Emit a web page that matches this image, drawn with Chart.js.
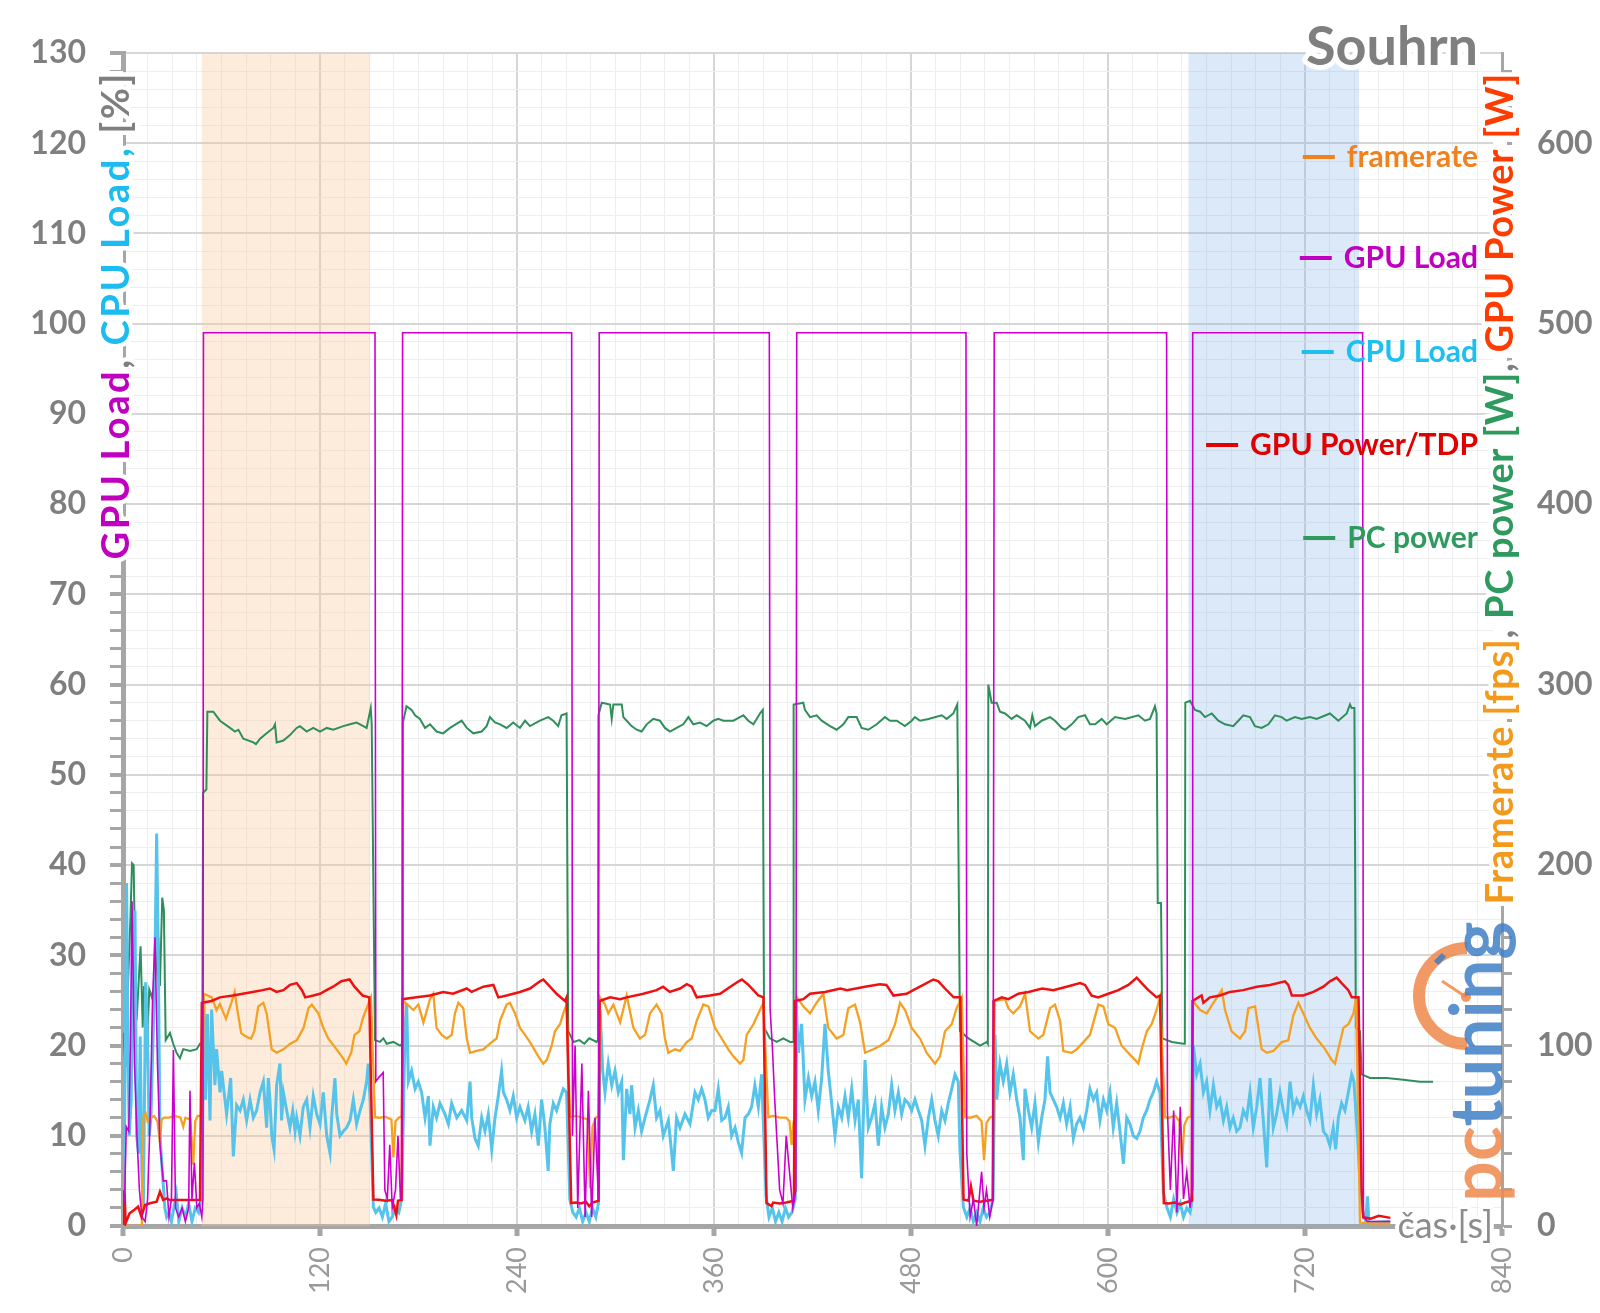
<!DOCTYPE html>
<html>
<head>
<meta charset="utf-8">
<script src="https://cdn.jsdelivr.net/npm/chart.js@4.4.1/dist/chart.umd.min.js"></script>
<style>
  html, body { margin: 0; padding: 0; background: #fff; }
  canvas { display: block; }
</style>
</head>
<body>
<canvas id="myChart" width="1600" height="1313"></canvas>
<script>
// tick labels
const xTickLabels = [0, 120, 240, 360, 480, 600, 720, 840];
const leftTickLabels = [0, 10, 20, 30, 40, 50, 60, 70, 80, 90, 100, 110, 120, 130];
const rightTickLabels = [0, 100, 200, 300, 400, 500, 600];

// shaded test windows [from s, to s]
const highlightBands = [[48, 150.5], [649, 753]];

// [time s, GPU load %]
const gpuLoad = [[0,4],[1,3],[2,11],[3.5,10.5],[4.5,20],[5.5,36],[7,18],[8.5,10],[10,4],[11.5,1],[13.5,0.5],[15,3],[16.5,12],[18,25],[19.5,32],[21,18],[22.5,9],[24.5,5],[26.5,5],[28,1],[29.5,3],[30.7,19.5],[32,2],[34,1],[36,2],[38,0.5],[40,2],[40.8,15],[42,3],[43.5,7],[45,2],[46.5,2.5],[48,1],[48.7,3],
  [49,99],[153.5,99],
  [154,16],[156,16.5],[158.5,17],[159.5,4],[161,3],[162.5,9],[164,2],[166,4],[167.5,10],[169,3],[169.9,5],
  [170.3,99],[273.3,99],
  [273.8,10],[275.4,20],[277,2],[279.5,18],[281.5,1],[283.5,15],[285.5,1],[287.5,12],[289.6,3],
  [290.1,99],[393.7,99],
  [394.2,24],[395.5,20],[397,14],[400,4],[402,2.5],[404,10],[406,6],[408,2],[409.9,4],
  [410.4,99],[513.5,99],
  [514,8],[516,1],[518,3],[520,0],[522,4],[523,6],[524.5,2],[526,4],[528,1],[530,3],
  [530.7,99],[635.7,99],
  [636.2,12.8],[638,4],[640,12.8],[642,1.5],[644,13.2],[646,3],[648,6],[650,2],[651.2,4],
  [651.6,99],[755.1,99],
  [755.6,1],[758,0.5],[772,0.5]];

// [time s, CPU load %]
const cpuLoad = [[0,4],[1,12],[2.2,38],[3,20],[3.8,10],[5,14],[6,30],[7.3,35],[8.3,10],[9.5,8],[10.5,21],[11.5,6],[12.4,2],[13.8,27],[14.8,22],[16,10],[17,12],[18.5,22],[19.5,30],[20.5,43.5],[21.5,30],[22.5,10],[24,6],[25.5,2],[26.6,1],[28,1.5],[29.5,0.5],[31,2],[32.5,3.5],[34,0.5],[36,2],[38,1],[40,2.5],[42,0.5],[44,2],[46,1.5],[47.5,3],[48.5,10],[49.3,25],[50.2,14],
  [51.4,23.5],[53,11.7],[54,24],[56,15.6],[57,19.6],[59.1,14.8],[60.1,17.2],[62.1,14],[63.1,12.4],[65.6,16.4],[67.2,7.7],[69.2,13.4],[71.3,12.8],[73.3,14],[75.3,11.7],[77.4,14],[79.4,12],[81.4,12.8],[83.5,14.8],[85.5,16],[87.5,10.9],[88.5,16.4],[89.5,14],[90.6,10],[92,8.5],[93.6,15.6],[95.6,18],[96.6,11.7],[97.7,14.8],[99.7,12.8],[101.7,10.9],[103.4,12.8],[104.8,10.5],[105.8,12],[107.8,10],[109.8,13.2],[111.9,14],[113.9,10.9],[115.9,14.4],[118,12.4],[120,11.3],[122,14.8],[124.1,10],[126.1,8.1],[127.1,12],[129.1,16.4],[130.2,12.4],[132.2,10],[134.2,10.5],[136.2,10.9],[138.3,11.7],[140.3,14],[142.3,11.3],[144.4,12.8],[146.4,14],[148.4,16],[149.4,18],[150.5,14],[152.5,2.1],
  [154,1.5],[156,2],[158,1],[160,2.5],[162,0.5],[164,1],[166,2],[168,1.5],[169.8,3],
  [171.8,22],[172.8,24.7],[173.8,16],[175.8,17.2],[177.9,15.2],[179.9,16],[181.9,14.8],[184,12],[186,14.4],[187,8.9],[189,13.2],[191,12],[193.1,13.6],[196.1,12.4],[198.2,11.3],[200.2,13.6],[203.3,12],[206.3,12.8],[209.4,11.7],[211.4,16],[212.4,12],[214.4,9.7],[216.4,8.9],[218.5,12],[220.5,10.5],[222.5,12.4],[224.6,8.5],[226.6,12],[228.6,14.4],[230.6,17.2],[231.7,14.8],[233.7,14],[235.7,12.8],[237.7,14.4],[239.8,12],[241.8,13.2],[244.8,11.7],[246.8,13.2],[248.9,10.5],[250.9,12.4],[253,8.9],[255,14],[257,10.9],[259,6.1],[260,11.3],[262.1,13.6],[264.1,12.8],[266.1,14],[268.2,15.2],[270.2,14.8],[272.2,2.9],
  [274,1.5],[276,1],[278,2],[280,0.5],[282,1.5],[284,0.5],[286,2],[288,1],[289.6,2.5],
  [290.6,24],[292.2,17.2],[293.6,14.8],[295.6,18],[297.7,15.6],[299.7,17.2],[301.7,14.8],[303.8,16],[304.8,7.3],[306.8,15.2],[308.8,12.4],[309.8,15.6],[311.9,10.9],[313.9,12.8],[315.9,10.5],[318,12],[321,14],[323,15.6],[325,12],[327.1,12.8],[329.1,10],[332.2,11.7],[334.2,8.1],[335.2,6.1],[337.2,12],[339.3,10.9],[342.3,12.4],[345.4,11.3],[348.4,14.8],[350.4,14],[352.5,15.2],[354.5,14],[356.5,12],[358.6,12.8],[360.6,12.8],[362.6,15.2],[364.7,11.7],[366.7,12],[368.7,13.2],[370.7,10],[372.8,10.9],[374.8,9.3],[376.8,8.1],[378.9,12],[380.9,12.4],[382.9,13.2],[384.9,15.6],[387,13.2],[389,16.8],[391.7,3.3],
  [393.5,1],[395.5,2],[397.5,0.5],[399.5,1.5],[401.5,0.5],[403.5,2],[405.5,1],[407.5,1.5],[409.5,3],
  [410.3,23.5],[411.4,19.2],[413.4,22.4],[415.4,14],[417.5,16.4],[419.5,14.4],[421.5,16],[423.5,12.8],[425.6,16.4],[427.6,22.4],[429.6,17.2],[431.7,13.6],[433.7,10],[435.7,13.2],[437.8,12],[439.8,14.4],[441.8,12],[443.9,15.2],[445.9,11.7],[447.9,14],[449.9,5.3],[452,18.4],[454,10.9],[456,12],[458.1,13.6],[460.1,8.9],[462.1,13.2],[464.1,10.9],[466.2,12.4],[468.2,15.6],[470.2,12.8],[472.3,14.8],[474.3,12.4],[476.3,14],[478.4,13.6],[480.4,12.8],[482.4,14],[484.5,12.8],[486.5,11.7],[488.5,8.9],[490.6,12],[492.6,14],[494.6,11.7],[496.6,10],[498.7,12.8],[500.7,11.7],[502.7,13.6],[504.8,15.2],[506.8,16.8],[508.8,16],[509.8,8.5],[511.9,2.1],
  [514,1],[516,2],[518,0.5],[520,1.5],[522,0.5],[524,2],[526,1],[528,1.5],[530,3],
  [531.2,21.2],[532.2,14],[534.2,18],[536.2,16],[538.3,18],[540.3,14.8],[542.3,16.8],[544.4,14],[546.4,12],[548.4,7.3],[549.4,15.2],[551.5,12.8],[553.5,10.9],[555.5,13.6],[557.6,9.3],[559.6,12],[561.6,14],[563.2,18.8],[564.7,14.8],[566.7,14],[568.7,13.2],[570.8,12],[572.8,13.6],[574.8,11.3],[576.9,13.2],[578.9,9.7],[580.9,11.3],[582.9,12],[585,10.9],[587,12.8],[589,15.2],[591.1,14],[593.1,14.8],[595.1,11.7],[597.2,14],[599.2,12.8],[601.2,14.8],[603.2,10.9],[605.3,13.6],[607.3,10.5],[609.4,6.9],[611.4,12],[613.4,11.3],[615.4,10],[617.5,9.7],[619.5,10.5],[621.5,12],[623.6,12.8],[625.6,14],[627.6,14.8],[629.6,16],[631.7,14.8],[633.7,3.7],
  [636,2],[638,1],[640,3],[642,1.5],[644,2.5],[646,1],[648,2],[650,1.5],[651.4,3],
  [652,20],[654,16.8],[656.1,18],[658.1,14.8],[660.1,16],[662.1,12.8],[664.2,15.6],[666.2,13.2],[668.2,14],[670.3,11.7],[672.3,13.2],[674.3,10.9],[676.3,12],[678.4,10.5],[680.4,10.9],[682.4,12.8],[684.5,12],[686.5,14.8],[688.5,10.9],[690.6,13.2],[692.6,16.4],[694.6,11.7],[696.7,6.5],[698.7,16.4],[700.7,10.9],[702.7,12.4],[704.8,14.8],[706.8,12.8],[708.8,11.3],[710.9,16],[712.9,12.8],[714.9,14],[717,13.2],[719,14.4],[721,12.8],[723,11.7],[725.1,15.6],[727.1,12.4],[729.1,14],[731.2,10.5],[733.2,10],[735.2,8.9],[737.2,10.9],[738.7,8.5],[740.3,12],[742.3,13.6],[744.3,12.8],[746.4,14.8],[748.4,16.8],[749.8,16],[752,10],[754,3],[755.5,1.3],[757,0.5],[758,3.3],[759,0.4],[772,0.5]];

// [time s, framerate fps]
const framerate = [[0,0],[10,0],[11.5,1],[12.4,60],[13.8,62.5],[15,58],[17,60],[19,61],[21,58],[22.5,46],[23.5,59],[25,60],[28,60],[32,61],[35,60],[36.7,55],[38,60],[41,59],[42.8,34],[44,58],[45.5,61],[48.3,61],
  [49.3,128.7],[54,126.7],[57,119.7],[59,123],[62.7,114.8],[66,123.7],[68,129.7],[70,117.8],[72,106.9],[75,104.9],[78,103.9],[80,107.9],[82.4,121.7],[85.5,123.7],[87.5,117.8],[90.6,97.9],[93.6,96],[97.7,97.9],[101.7,100.9],[105.8,102.9],[110,109.8],[113,120.7],[115,122.7],[119,117.8],[122,109.8],[125,103.9],[130,98],[134,93],[136,90],[139,96],[141,105.9],[144,107.9],[146,114.8],[148,119.7],[151,126.7],[153.5,60.3],
  [156,60],[160,60.5],[163.5,59],[164.7,38],[166,58],[168,60],[169.8,61],
  [170.8,124.7],[176.9,119.7],[179.9,122.7],[183,112.8],[187,125.7],[189,128.7],[191,109.8],[194.1,105.9],[197.2,103.9],[200.2,105.9],[202.2,117.8],[204.3,123.7],[207.3,120.7],[209.4,103.9],[211.4,96],[215.4,97],[219.5,97.9],[224.6,101.9],[227.6,103.9],[229.7,113.8],[233.7,122.7],[235.7,123.7],[238.8,117.8],[241.8,109.8],[244.9,105.9],[247.9,101.9],[253,94],[256,90],[258.1,91.9],[261.1,99.9],[263.1,107.9],[266.2,111.8],[268.2,117.8],[270.2,122.7],[272.3,60.3],
  [276,61],[280,60],[283,59],[284.5,21],[286,55],[288,60],[289.7,61],
  [290.6,126.7],[293.6,122.7],[295.6,117.8],[298.7,122.7],[302.8,112.8],[306.8,127.7],[310.9,109.8],[314.9,103.9],[318,105.9],[321,117.8],[325,122.7],[328.1,117.8],[330.1,103.9],[332.2,96],[336.3,97.9],[339.3,97],[343.4,101.9],[346.4,103.9],[349.5,113.8],[353.5,122.7],[356.6,121.7],[360.6,109.8],[364.7,103.9],[368.7,97.9],[371.8,94],[375.8,90],[377.9,92],[379.9,105.9],[384,111.8],[387,117.8],[390.1,123.7],[393.1,60.3],
  [396,61],[400,60],[404,60],[406,58],[407.3,45],[408.5,58],[409.8,60],
  [410.6,126.7],[414.4,121.7],[418.5,117.8],[422.5,123.7],[426.6,128.7],[429.6,109.8],[434.7,103.9],[438.8,105.9],[441.8,120.7],[445.9,122.7],[449,112.8],[452,96],[457.1,97.9],[461.2,99.9],[466.2,102.9],[470.3,111.8],[473.3,123.7],[476.4,119.7],[480.4,109.8],[485.5,103.9],[489.5,96],[494.6,90],[497.7,94],[500.7,107.9],[504.8,111.8],[507.8,120.7],[510.9,126.7],[512.9,60.3],
  [516,60],[520,61],[523,58],[524.5,36.5],[526,57],[528,60],[530,61],
  [531,124.7],[537.3,125.7],[539.3,120.7],[542.3,117.8],[546.4,121.7],[549.5,128.7],[552.5,107.9],[557.6,103.9],[560.6,105.9],[564.7,120.7],[567.7,122.7],[570.8,113.8],[572.8,96.9],[577.9,96],[580.9,97.9],[585,101.9],[589,105.9],[594.1,122.7],[597.2,121.7],[600.2,111.8],[604.3,109.8],[608.3,99.9],[614.4,94],[618.5,90],[620.5,97.9],[623.6,107.9],[626.6,111.8],[629.6,119.7],[631.7,126.7],[634.7,60.3],
  [637,60],[641,61],[643.5,58],[645,34.5],[646.5,56],[648.5,60],[650.8,61],
  [651.8,124.7],[656.1,119.7],[660.1,117.8],[664.2,123.7],[669.3,130.7],[671.3,119.7],[675.3,107.9],[680.4,103.9],[683.5,107.9],[685.5,120.7],[689.6,121.7],[691.6,109.8],[693.6,98],[696.7,96],[700.7,97],[705.8,101.9],[709.8,102.9],[712.9,116.8],[716,123.7],[719,117.8],[723,109.8],[727.1,103.9],[732.2,98],[736.3,92],[738.3,90],[740.3,98],[743.4,109.8],[746.4,111.8],[749.5,117.8],[751.1,125.7],[753.5,1.8],[760,1.5],[772,1.5]];

// [time s, GPU power W]
const gpuPower = [[0,0.6],[1,18],[1.6,1.5],[4,7],[7,9],[9.2,10.7],[11.2,5.2],[13.4,11.6],[16.4,12.6],[20.5,13.5],[22.5,19],[24.5,14.4],[26.6,15.3],[28.6,14.4],[36.7,14.4],[46.9,14.4],
  [48,123.7],[54,124.7],[59,126.7],[67,127.7],[73,128.7],[79,129.7],[85,130.7],[89.5,131.6],[93.5,129.7],[97.7,130.7],[101.7,133.6],[105.8,134.6],[109,130.7],[111,126.7],[116,127.7],[120,128.7],[124,130.7],[128,132.6],[133,135.6],[138,136.6],[141,132.6],[146,127.7],[150,126.7],[152.5,14.7],
  [156,14.5],[160,14],[164,14.4],[166.5,6],[167.5,14],[169.7,14.4],
  [170.3,125.7],[178.9,126.7],[187,127.7],[195,129.7],[201,128.7],[209.4,131.6],[212.4,129.7],[219.5,132.6],[225.6,133.6],[228.6,126.7],[233.7,127.7],[241.8,129.7],[247.9,131.6],[254,135.6],[256,136.6],[260.1,132.6],[264.1,128.7],[269.2,124.7],[270.2,126.7],[273,12.7],
  [276,13],[279,12.5],[282,13.5],[284,11],[286,13],[289.7,14],
  [290.3,124.7],[296.7,126.7],[302.8,125.7],[306.8,126.7],[317,128.7],[325,130.7],[329,132.6],[333.1,129.7],[339.3,131.6],[343.4,134],[346.4,132.6],[349.5,126.7],[357.6,127.7],[363.7,128.7],[370,132.6],[375,135.6],[377,136.6],[381,133.6],[384,130.7],[387,127.7],[390.1,126.7],[392,12.7],
  [395,11],[396,13],[400,12.5],[404,13],[408.7,14],
  [409.3,124.7],[414.4,125.7],[418.5,128.7],[427.6,129.7],[437,131.6],[441,130.7],[452,132.6],[461.1,134],[465,133.6],[469.3,127.7],[477.3,128.7],[481.4,130.7],[487.5,133.6],[493.6,136.6],[496.7,135.6],[500.7,131.6],[506,126.7],[510,126.7],[512,14.7],
  [515,14],[516.5,22],[518,14],[522,13.5],[526,14],[529.8,14.5],
  [530.3,124.7],[535.3,126.7],[539.3,125.7],[545.4,128.7],[551.5,129.7],[560,131.6],[566.7,130.7],[574.8,132.6],[583,134.6],[586,133.6],[590,127.7],[594,126.7],[600.2,128.7],[606.3,130.7],[612.4,133.6],[617.5,137.6],[620.5,134.6],[624.6,130.7],[629.6,126.7],[631.7,127.7],[634,12.7],
  [637,12.5],[641,13],[644,12],[647,13],[651,14],
  [651.5,124.7],[657,127.7],[658.1,123.7],[662.1,126.7],[668.2,127.7],[674.3,129.7],[682.4,130.7],[690.6,132.6],[698.7,133.6],[707.8,135.6],[709.8,133.6],[712,127.7],[719,127.7],[725.1,129.7],[731.2,132.6],[735.2,135.6],[739.3,137.6],[742.3,134.6],[746.4,130.7],[748.5,126.7],[752.6,126.7],[754.5,20],[755.5,4.8],[760,4],[765,5.7],[772,4.5]];

// [time s, PC power W]
const pcPower = [[0,107],[1.6,88],[3,133],[4.5,170],[5.5,201],[6.5,200],[7.5,140],[8.3,114],[10.7,155],[12,110],[12.8,133],[14.4,96],[16,131],[17.5,127],[19.5,135],[21.5,160],[22.5,133],[23.9,182],[24.9,175],[26,103],[28.6,107],[30.6,101],[32.6,96],[34.7,93],[36.7,98],[40.8,97],[44.9,98],[46.9,101],[48.3,101],[48.8,240],[50.8,242],
  [51.4,285],[55,285],[59.1,280],[65.2,276],[68.2,274],[70.3,275],[73.3,270],[79.4,268],[81,267],[83.5,270],[87.5,273],[91.6,276],[92.6,278],[93.6,268],[97.7,269],[101.7,272],[105.8,276],[107.8,277],[111.9,274],[115.9,276],[120,274],[124.1,276],[128.1,275],[134.2,277],[138.3,278],[142.3,279],[146.4,277],[148.4,276],[150.9,287],[151.5,278],[153.5,103],
  [156.5,102],[158.6,104],[160.6,101],[164.7,102],[168.7,100],[170.2,101],
  [170.5,279],[172.7,288],[175.8,286],[177.9,283],[180.9,281],[184,276],[187,278],[191,274],[195,273],[199.2,276],[206.3,280],[209.4,276],[213.4,273],[218.5,274],[221.5,277],[223.5,282],[226.6,279],[229.7,278],[233.7,276],[237.7,279],[241.8,276],[244.9,280],[247.9,277],[254,280],[259,282],[262.1,280],[265.1,277],[267.1,283],[270.2,284],[271.2,108],[274.5,102],[278,103],[281,101],[284,104],[288.5,102],[289.3,103],
  [289.6,283],[291.6,290],[296.7,289],[297.7,281],[298.7,289],[303.8,289],[304.8,282],[306.8,280],[309.8,277],[312.9,275],[315.9,274],[319,278],[323,281],[327.1,280],[330.1,276],[333.2,274],[337.2,276],[341.3,278],[344.4,282],[347.4,278],[351.5,279],[355.5,277],[359.6,280],[362.6,281],[365.7,280],[371.8,280],[375.8,282],[377.9,283],[380.9,280],[384,278],[388,284],[389.7,286],[390.5,110],[394,104],[398.2,102],[402.2,104],[406.3,102],[408.2,102],
  [408.5,289],[414.4,290],[415.4,286],[418.5,282],[422.5,283],[425.6,280],[430.7,277],[434.7,275],[438.8,278],[441.8,282],[446.9,282],[449.9,276],[454,275],[459.1,278],[464.2,282],[467.2,280],[471.3,280],[476.3,277],[480.4,280],[482.4,282],[485.5,280],[490.6,281],[498.7,283],[501.7,281],[505.8,284],[508.2,289],[509.8,108],[515,104],[522.1,100],[526.2,102],[526.8,101],
  [527.1,300],[529.1,290],[532.2,290],[534.2,285],[537.3,284],[541.3,281],[544.4,283],[549.4,280],[552.5,276],[553.9,283],[555.5,277],[559.6,280],[564.7,282],[567.7,280],[571.8,276],[573.8,275],[577.9,278],[581.9,282],[586,283],[589,278],[592.1,278],[596.2,281],[599.2,278],[604.3,282],[610.4,281],[618.5,283],[622.5,280],[625.6,281],[628.6,288],[629.6,284],[630.3,179],[632.3,179],[633.1,104],[638.9,102],[646,101],[646.8,101],
  [647.1,290],[650,291],[653,286],[656.1,285],[659.1,282],[663.2,284],[667.2,280],[671.3,278],[676.3,277],[679.4,280],[682.4,283],[686.5,282],[689.5,277],[693.6,276],[697.7,278],[701.7,283],[705.8,282],[708.8,280],[713.9,282],[718,281],[723,282],[727.1,281],[735.2,284],[740.3,280],[745.4,284],[747.4,289],[748.4,287],[750.1,287],[751,110],[753.5,108],[754.5,84],[759.6,82],[769.7,82],[779.9,81],[790,80],[798,80]];

const FONT = 'Lato, "Open Sans", sans-serif';
const GRAY = '#7f7f7f';
const AXIS_GRAY = '#a6a6a6';

const toXY = pts => pts.map(p => ({ x: p[0], y: p[1] }));
const hasLabel = (list, v) => list.some(l => Math.abs(l - v) < 1e-6);

// legend text colours and y positions (drawn by the overlay plugin)
const legendItems = [
  { label: 'framerate', color: '#f0821e', y: 157 },
  { label: 'GPU Load', color: '#c000c0', y: 258 },
  { label: 'CPU Load', color: '#1cbff0', y: 352 },
  { label: 'GPU Power/TDP', color: '#e00000', y: 445 },
  { label: 'PC power', color: '#2e9a5e', y: 538 }
];

function drawRotated(ctx, parts, cx, topY, font, spacing) {
  ctx.save();
  ctx.font = font;
  ctx.letterSpacing = spacing + 'px';
  let total = 0;
  parts.forEach(p => { total += ctx.measureText(p[0]).width; });
  // hide the axis line behind the title
  ctx.fillStyle = '#fff';
  ctx.fillRect(cx - 8, topY, 14, total);
  ctx.translate(cx, topY + total);
  ctx.rotate(-Math.PI / 2);
  ctx.textBaseline = 'middle';
  ctx.textAlign = 'left';
  ctx.lineJoin = 'round';
  ctx.strokeStyle = '#fff';
  ctx.lineWidth = 9;
  let x = 0;
  parts.forEach(p => { ctx.strokeText(p[0], x, 0); x += ctx.measureText(p[0]).width; });
  x = 0;
  parts.forEach(p => { ctx.fillStyle = p[1]; ctx.fillText(p[0], x, 0); x += ctx.measureText(p[0]).width; });
  ctx.restore();
}

const overlay = {
  id: 'overlay',
  beforeDatasetsDraw(chart) {
    const ctx = chart.ctx, a = chart.chartArea, xs = chart.scales.x;
    const cols = ['rgba(250, 200, 150, 0.34)', 'rgba(130, 175, 235, 0.28)'];
    ctx.save();
    highlightBands.forEach((b, i) => {
      const x0 = xs.getPixelForValue(b[0]), x1 = xs.getPixelForValue(b[1]);
      ctx.fillStyle = cols[i];
      ctx.fillRect(x0, a.top, x1 - x0, a.bottom - a.top);
    });
    ctx.restore();
  },
  afterDraw(chart) {
    const ctx = chart.ctx;

    // axis titles
    drawRotated(ctx, [['GPU Load', '#c000c0'], [', ', GRAY], ['CPU Load,', '#1cbcf0'], [' [%]', GRAY]],
      117, 71, 'bold 38px ' + FONT, 2.6);
    drawRotated(ctx, [['Framerate [fps]', '#f39a1d'], [', ', GRAY], ['PC power [W]', '#2e9a5e'], [', ', GRAY], ['GPU Power [W]', '#ff3c00']],
      1501, 73, 'bold 38px ' + FONT, 0.7);

    ctx.save();
    ctx.lineJoin = 'round';
    // chart title
    ctx.font = 'bold 54px ' + FONT;
    ctx.textAlign = 'right';
    ctx.textBaseline = 'alphabetic';
    ctx.strokeStyle = '#fff'; ctx.lineWidth = 10;
    ctx.strokeText('Souhrn', 1478, 65);
    ctx.fillStyle = GRAY;
    ctx.fillText('Souhrn', 1478, 65);

    // x axis name
    ctx.font = '36px ' + FONT;
    ctx.textBaseline = 'middle';
    ctx.lineWidth = 8;
    ctx.strokeText('čas·[s]', 1493, 1226);
    ctx.fillStyle = '#8c8c8c';
    ctx.fillText('čas·[s]', 1493, 1226);

    // legend
    ctx.font = 'bold 30px ' + FONT;
    legendItems.forEach(it => {
      const ds = chart.data.datasets.find(d => d.label === it.label);
      const w = ctx.measureText(it.label).width;
      const left = 1478 - w;
      ctx.strokeStyle = it.color;
      ctx.lineWidth = 4;
      ctx.beginPath();
      ctx.moveTo(left - 44, it.y); ctx.lineTo(left - 12, it.y);
      ctx.stroke();
      ctx.fillStyle = it.color;
      ctx.fillText(ds.label, 1478, it.y);
    });
    ctx.restore();

    // pctuning watermark
    ctx.save();
    ctx.globalAlpha = 0.85;
    ctx.strokeStyle = '#f0884a';
    ctx.lineWidth = 12;
    ctx.beginPath();
    ctx.arc(1467, 996, 48, -Math.PI / 2, Math.PI / 2, true);
    ctx.stroke();
    ctx.lineWidth = 3;
    ctx.beginPath(); ctx.moveTo(1442, 981); ctx.lineTo(1466, 997); ctx.stroke();
    ctx.fillStyle = '#f0884a';
    ctx.beginPath(); ctx.arc(1466, 997, 5, 0, Math.PI * 2); ctx.fill();
    ctx.strokeStyle = '#3f7fc4'; ctx.lineWidth = 6;
    ctx.beginPath(); ctx.moveTo(1436, 963); ctx.lineTo(1444, 955); ctx.stroke();
    ctx.translate(1502, 1202);
    ctx.rotate(-Math.PI / 2);
    ctx.font = 'bold 72px ' + FONT;
    ctx.textBaseline = 'alphabetic';
    ctx.textAlign = 'left';
    ctx.fillStyle = '#f0884a';
    ctx.fillText('pc', 0, 0);
    const pw = ctx.measureText('pc').width;
    ctx.fillStyle = '#3f7fc4';
    ctx.fillText('tuning', pw, 0);
    ctx.restore();
  }
};

const data = {
  datasets: [
    { label: 'framerate', data: toXY(framerate), yAxisID: 'y1', borderColor: '#f5a021', borderWidth: 2.3, order: 3 },
    { label: 'GPU Load', data: toXY(gpuLoad), yAxisID: 'y', borderColor: '#cc00cc', borderWidth: 1.6, order: 1 },
    { label: 'CPU Load', data: toXY(cpuLoad), yAxisID: 'y', borderColor: '#55c3ea', borderWidth: 3, order: 4 },
    { label: 'GPU Power/TDP', data: toXY(gpuPower), yAxisID: 'y1', borderColor: '#ee1111', borderWidth: 2.5, order: 2 },
    { label: 'PC power', data: toXY(pcPower), yAxisID: 'y1', borderColor: '#2f8f5b', borderWidth: 2, order: 5 }
  ]
};

const config = {
  type: 'line',
  data: data,
  plugins: [overlay],
  options: {
    responsive: false,
    animation: false,
    layout: { padding: { top: 53, left: 0, right: 0, bottom: 0 } },
    elements: { point: { radius: 0 }, line: { tension: 0, fill: false } },
    plugins: { legend: { display: false }, tooltip: { enabled: false } },
    scales: {
      x: {
        type: 'linear', min: 0, max: 840,
        afterFit: s => { s.height = 87; },
        border: { color: AXIS_GRAY, width: 5 },
        grid: {
          color: c => c.tick.value % 120 === 0 ? '#d6d6d6' : '#eeeeee',
          lineWidth: c => c.tick.value % 120 === 0 ? 2 : 1,
          tickColor: c => hasLabel(xTickLabels, c.tick.value) ? AXIS_GRAY : 'rgba(0,0,0,0)',
          tickWidth: 5, tickLength: 10
        },
        ticks: {
          stepSize: 15, autoSkip: false, minRotation: 90, maxRotation: 90, padding: 11,
          color: '#9a9a9a', font: { family: FONT, size: 27 },
          callback: v => hasLabel(xTickLabels, v) ? String(v) : ''
        }
      },
      y: {
        position: 'left', min: 0, max: 130,
        afterFit: s => { s.width = 123; },
        border: { color: AXIS_GRAY, width: 5 },
        grid: {
          color: c => c.tick.value % 10 === 0 ? '#d6d6d6' : '#eeeeee',
          lineWidth: c => c.tick.value % 10 === 0 ? 2 : 1,
          tickColor: AXIS_GRAY,
          tickWidth: c => c.tick.value % 10 === 0 ? 4 : 3,
          tickLength: 13
        },
        ticks: {
          stepSize: 2, autoSkip: false, padding: 24, color: GRAY,
          font: { family: FONT, size: 32, weight: 'bold' },
          callback: v => hasLabel(leftTickLabels, v) ? String(v) : ''
        }
      },
      y1: {
        position: 'right', min: 0, max: 650,
        afterFit: s => { s.width = 98; },
        border: { color: AXIS_GRAY, width: 3 },
        grid: { drawOnChartArea: false, tickColor: AXIS_GRAY, tickWidth: 3, tickLength: 10 },
        ticks: {
          stepSize: 20, includeBounds: false, autoSkip: false, padding: 25, color: GRAY,
          font: { family: FONT, size: 32, weight: 'bold' },
          callback: v => hasLabel(rightTickLabels, v) ? String(v) : ''
        }
      }
    }
  }
};

const myChart = new Chart(document.getElementById('myChart'), config);
</script>
</body>
</html>
